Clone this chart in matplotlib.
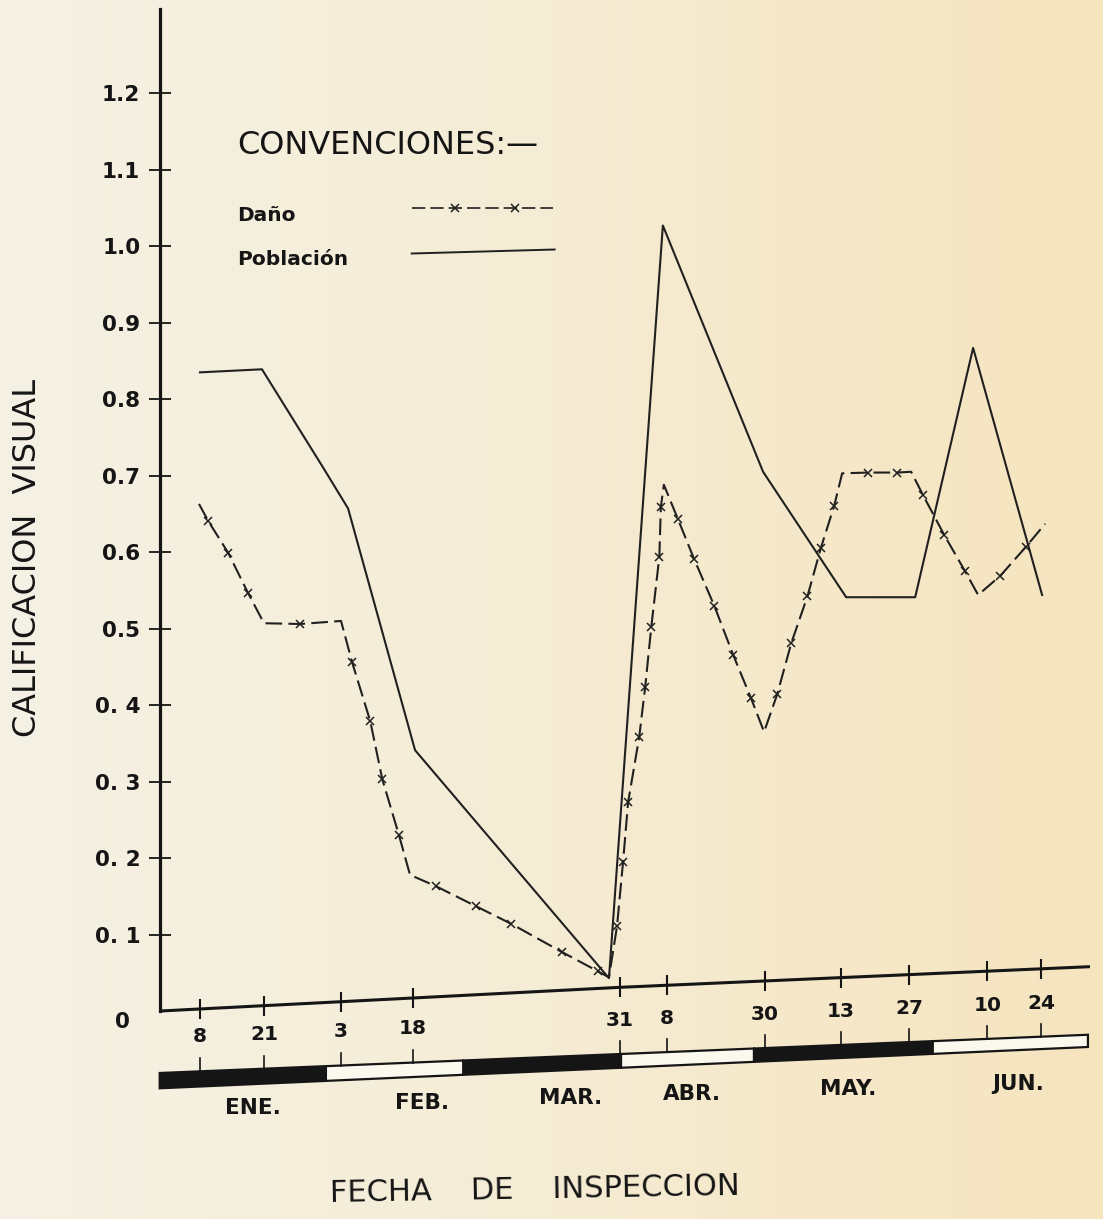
import numpy as np
import matplotlib.pyplot as plt
from matplotlib.patches import Polygon
from matplotlib.colors import LinearSegmentedColormap

# Fechas de inspeccion (dia del año, tal como quedaron en el eje dibujado)
fechas_dia = [8.0, 20.7, 36.0, 50.3, 91.4, 100.7, 120.2, 135.3, 148.8, 164.3, 175.0]
fechas_txt = ['8', '21', '3', '18', '31', '8', '30', '13', '27', '10', '24']

meses = ['ENE.', 'FEB.', 'MAR.', 'ABR.', 'MAY.', 'JUN.']
meses_lim = [0.0, 33.0, 60.3, 91.6, 118.0, 153.5, 184.3]
meses_centro = [18.5, 52.1, 81.5, 105.7, 136.7, 170.4]

# Poblacion (linea continua)
pob_x = [8.0, 20.3, 32.4, 37.4, 50.7, 89.2, 99.9, 119.8, 136.3, 150.0, 161.5, 175.2]
pob_y = [0.835, 0.839, 0.711, 0.657, 0.341, 0.043, 1.027, 0.705, 0.541, 0.541, 0.867, 0.544]

# Daño: quiebres de la linea
dano_x = [7.8, 20.7, 36.0, 49.7, 89.2, 100.1, 120.0, 135.5, 149.2, 162.5, 175.8]
dano_y = [0.663, 0.507, 0.510, 0.178, 0.044, 0.688, 0.365, 0.703, 0.705, 0.544, 0.637]

# Daño: cruces marcadas sobre la linea
marca_x = [9.6, 13.6, 17.5, 27.9, 38.2, 41.8, 44.2, 47.5, 54.9, 62.8, 69.8, 79.9, 87.0,
           90.8, 92.0, 93.0, 95.2, 96.4, 97.6, 99.2, 99.5,
           102.9, 106.1, 110.1, 113.9, 117.4, 122.6, 125.4, 128.6, 131.3, 133.9,
           140.7, 146.4, 151.6, 155.8, 159.9, 166.9, 172.0]
marca_y = [0.641, 0.599, 0.547, 0.506, 0.456, 0.379, 0.303, 0.230, 0.163, 0.137, 0.114, 0.077, 0.052,
           0.111, 0.195, 0.273, 0.358, 0.424, 0.502, 0.594, 0.659,
           0.643, 0.591, 0.530, 0.465, 0.409, 0.414, 0.481, 0.542, 0.606, 0.660,
           0.704, 0.704, 0.674, 0.622, 0.575, 0.569, 0.607]

yticks = [0.1, 0.2, 0.3, 0.4, 0.5, 0.6, 0.7, 0.8, 0.9, 1.0, 1.1, 1.2]
ytick_txt = ['0. 1', '0. 2', '0. 3', '0. 4', '0.5', '0.6', '0.7', '0.8', '0.9', '1.0', '1.1', '1.2']

# eje horizontal dibujado a mano, algo inclinado
eje_dia = [0.0, 91.4, 184.7]
eje_val = [0.0, 0.031, 0.058]

tinta = '#151515'
trazo = '#202020'
plt.rcParams['font.family'] = ['DejaVu Sans']

fig = plt.figure(figsize=(11.03, 12.19), dpi=100)

# fondo de papel
fondo = fig.add_axes([0, 0, 1, 1], zorder=-5)
papel = LinearSegmentedColormap.from_list('papel', ['#f4f1e4', '#f5ecd4', '#f6e4be'])
grad = np.tile(np.linspace(0, 1, 256), (8, 1))
fondo.imshow(grad, cmap=papel, aspect='auto', extent=[0, 1, 0, 1])
fondo.axis('off')

ax = fig.add_axes([0.1448, 0.1706, 0.8525, 0.822])
ax.patch.set_alpha(0)
ax.set_xlim(0, 186.7)
ax.set_ylim(0, 1.31)
for s in ['top', 'right', 'bottom']:
    ax.spines[s].set_visible(False)
ax.spines['left'].set_linewidth(2.3)
ax.spines['left'].set_color(tinta)

ax.set_xticks([])
ax.set_yticks(yticks)
ax.set_yticklabels(ytick_txt, fontweight='bold')
ax.tick_params(axis='y', direction='inout', length=16, width=1.3, pad=6,
               labelsize=15.5, colors=tinta)
ax.text(-7.5, -0.014, '0', ha='center', va='center', fontsize=15.5,
        fontweight='bold', color=tinta, clip_on=False)

# eje de fechas
ax.plot(eje_dia, eje_val, color=tinta, lw=2.2, clip_on=False, solid_capstyle='butt')
ax.plot(fechas_dia, np.interp(fechas_dia, eje_dia, eje_val), ls='none', marker='|',
        ms=14, mew=1.5, color=tinta, clip_on=False)
lab_y = np.interp(fechas_dia, [0, 184.7], [-0.036, 0.013])
for d, t, yy in zip(fechas_dia, fechas_txt, lab_y):
    ax.text(d, yy, t, ha='center', va='center', fontsize=14.5, fontweight='bold',
            color=tinta, clip_on=False)

# barra de meses
def borde_sup(d):
    return np.interp(d, [0, 184.3], [-0.081, -0.031])

def borde_inf(d):
    return np.interp(d, [0, 184.3], [-0.101, -0.047])

for i in range(len(meses)):
    x0, x1 = meses_lim[i], meses_lim[i + 1]
    col = tinta if i % 2 == 0 else '#fbf8ee'
    poly = Polygon([(x0, borde_sup(x0)), (x1, borde_sup(x1)),
                    (x1, borde_inf(x1)), (x0, borde_inf(x0))],
                   closed=True, facecolor=col, edgecolor=tinta, lw=1.6, clip_on=False)
    ax.add_patch(poly)
for d in fechas_dia:
    ax.plot([d, d], [borde_sup(d), borde_sup(d) + 0.017], color=tinta, lw=1.2,
            clip_on=False)
mes_y = np.interp(meses_centro, [0, 184.3], [-0.131, -0.092])
for m, d, yy in zip(meses, meses_centro, mes_y):
    ax.text(d, yy, m, ha='center', va='center', fontsize=15.5, fontweight='bold',
            color=tinta, clip_on=False)

# series
ax.plot(pob_x, pob_y, color=trazo, lw=1.5)
orden = np.argsort(dano_x + marca_x, kind='stable')
lx = np.array(dano_x + marca_x)[orden]
ly = np.array(dano_y + marca_y)[orden]
ax.plot(lx, ly, color=trazo, lw=1.5, ls=(0, (8, 3)))
ax.plot(marca_x, marca_y, ls='none', marker='x', ms=6, mew=1.1, color=trazo)

# convenciones
ax.text(0.0822, 0.864, 'CONVENCIONES:\u2014', transform=ax.transAxes, fontsize=23,
        ha='left', va='center', color=tinta)
ax.text(0.0822, 0.794, 'Daño', transform=ax.transAxes, fontsize=14.5, fontweight='bold',
        ha='left', va='center', color=tinta)
ax.text(0.0822, 0.750, 'Población', transform=ax.transAxes, fontsize=14.5,
        fontweight='bold', ha='left', va='center', color=tinta)
ax.plot([0.268, 0.418], [0.801, 0.801], transform=ax.transAxes, color=trazo,
        lw=1.2, ls=(0, (8, 3)))
ax.plot([0.314, 0.378], [0.801, 0.801], transform=ax.transAxes, ls='none',
        marker='x', ms=6, mew=1.1, color=trazo)
ax.plot([0.268, 0.420], [0.756, 0.760], transform=ax.transAxes, color=trazo, lw=1.4)

fig.text(28 / 1103, 1 - 558 / 1219, 'CALIFICACION  VISUAL', rotation=90,
         ha='center', va='center', fontsize=23, color=tinta)
fig.text(535 / 1103, 1 - 1190 / 1219, 'FECHA    DE    INSPECCION', rotation=1,
         ha='center', va='center', fontsize=22, color=tinta)

fig.savefig('out.png', dpi=100)
